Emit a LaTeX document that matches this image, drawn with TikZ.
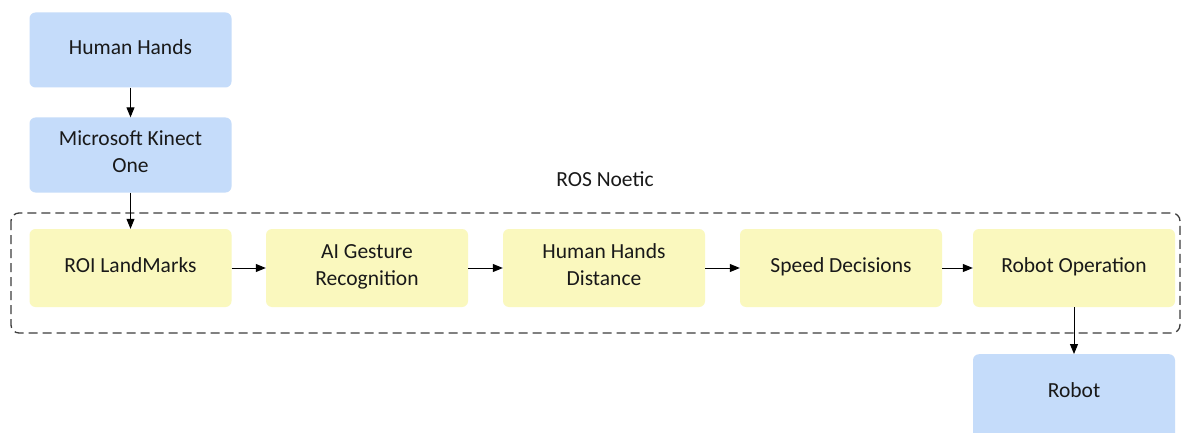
\documentclass[tikz,border=0pt]{standalone}
\usepackage{fontspec}
\setmainfont{Carlito}
\usetikzlibrary{arrows.meta}
\definecolor{boxblue}{RGB}{197,220,250}
\definecolor{boxyellow}{RGB}{250,248,190}
\definecolor{dashgray}{RGB}{60,60,60}
\tikzset{lbl/.style={font=\fontsize{21.5}{27}\selectfont,text=black!90}}
\begin{document}
\begin{tikzpicture}[x=1pt,y=-1pt,
  bluebox/.style={lbl,fill=boxblue,draw=none,rounded corners=6pt,minimum width=202pt,minimum height=75pt,align=center,inner sep=0pt,text depth=6pt},
  yellowbox/.style={lbl,fill=boxyellow,draw=none,rounded corners=6pt,minimum width=202pt,minimum height=78pt,align=center,inner sep=0pt,text depth=6pt},
  conn/.style={-{Triangle[length=10pt,width=8pt]},line width=1pt,black},
  group/.style={draw=dashgray,dash pattern=on 9pt off 5pt,line width=1.3pt,rounded corners=8pt}]
\useasboundingbox (0,0) rectangle (1181,433);
\clip (0,0) rectangle (1181,433);
\fill[white] (0,0) rectangle (1181,433);
% group box
\draw[group] (11,213) rectangle (1180,333);
\node[lbl] (ros) at (605,179) {ROS Noetic};
% nodes
\node[bluebox] (hands) at (130.5,50) {Human Hands};
\node[bluebox] (kinect) at (130.5,155) {Microsoft Kinect\\One};
\node[yellowbox] (roi) at (130.5,268) {ROI LandMarks};
\node[yellowbox] (ai) at (367,268) {AI Gesture\\Recognition};
\node[yellowbox] (dist) at (604,268) {Human Hands\\Distance};
\node[yellowbox] (speed) at (841,268) {Speed Decisions};
\node[yellowbox] (op) at (1074,268) {Robot Operation};
\node[bluebox,minimum height=90pt,anchor=north] (robot) at (1074,354) {};
\node[lbl] (robotlbl) at (1074,390) {Robot};
% connectors
\draw[conn] (hands) -- (kinect);
\draw[conn] (kinect) -- (roi);
\draw[conn] (roi) -- (ai);
\draw[conn] (ai) -- (dist);
\draw[conn] (dist) -- (speed);
\draw[conn] (speed) -- (op);
\draw[conn] (op) -- (robot);
\end{tikzpicture}
\end{document}
